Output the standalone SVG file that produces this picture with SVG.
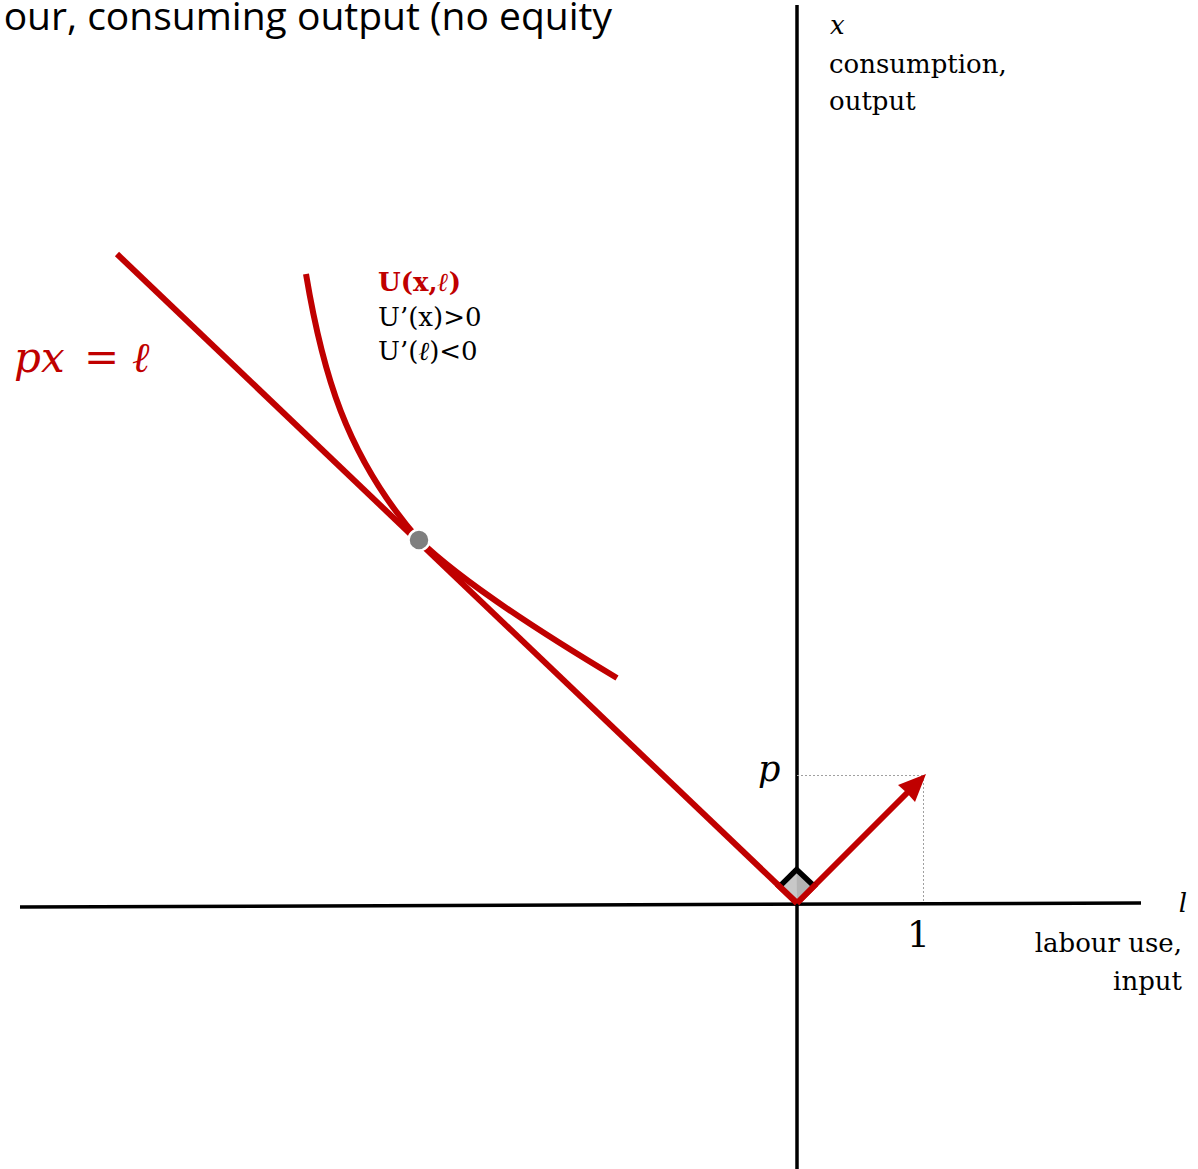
<svg xmlns="http://www.w3.org/2000/svg" width="1198" height="1169" viewBox="0 0 1198 1169">
<style>
.axis{stroke:#000;stroke-width:3.5;fill:none}
.red{stroke:#c00000;stroke-width:6;fill:none;stroke-linecap:butt}
.guide{stroke:#a0a0a0;stroke-width:1;stroke-dasharray:2,2;fill:none}
.serif{font-family:"DejaVu Serif","Liberation Serif",serif;font-size:26px;fill:#000}
.it{font-style:italic}
.title{font-family:"Open Sans","Noto Sans",sans-serif;font-size:39px;fill:#000}
</style>
<rect width="1198" height="1169" fill="#fff"/>
<g id="title"><text class="title" x="612" y="30" text-anchor="end">our, consuming output (no equity</text></g>
<g id="connectors">
<line class="axis" x1="797" y1="5" x2="797" y2="1169"/>
<line class="axis" x1="20" y1="907" x2="1141" y2="903"/>
<line class="guide" x1="797" y1="775.5" x2="923" y2="775.5"/>
<line class="guide" x1="923.5" y1="775" x2="923.5" y2="903"/>
<line class="red" x1="117" y1="254" x2="797" y2="903"/>
<path class="red" d="M306,274 C322,370 345,455 419,540 C460,580 540,632 617,678"/>
<line class="red" x1="797" y1="903" x2="909" y2="791"/>
<polygon points="926,774 915,802 907,793 898,785" fill="#c00000"/>
</g>
<g id="right-angle">
<polygon points="797,903 779.6,886.4 796.6,869.5 814,886" fill="#c8c8c8"/>
<polygon points="797,903 796.6,869.5 814,886" fill="#b4b4b4"/>
<polyline points="779.6,886.4 796.6,869.5 814,886" fill="none" stroke="#000" stroke-width="5.5"/>
<line class="red" x1="797" y1="903" x2="777" y2="884"/>
<line class="red" x1="797" y1="903" x2="816" y2="884"/>
</g>
<g id="tangent-point"><circle cx="419" cy="540" r="10.5" fill="#7f7f7f" stroke="#fff" stroke-width="2.5"/></g>
<g id="y-axis-label">
<text class="serif it" x="830" y="34">x</text>
<text class="serif" x="829" y="73">consumption,</text>
<text class="serif" x="829" y="110">output</text>
</g>
<g id="x-axis-label">
<text class="serif it" x="1187" y="912" text-anchor="end">l</text>
<text class="serif" x="1182" y="952" text-anchor="end">labour use,</text>
<text class="serif" x="1182" y="990" text-anchor="end">input</text>
</g>
<g id="utility-label">
<text class="serif" x="378" y="291" font-weight="bold" style="fill:#c00000">U(x,<tspan class="it">ℓ</tspan>)</text>
<text class="serif" x="378" y="326">U’(x)&gt;0</text>
<text class="serif" x="378" y="360">U’(<tspan class="it">ℓ</tspan>)&lt;0</text>
</g>
<g id="budget-label"><text y="372" font-family="DejaVu Serif,Liberation Serif,serif" font-style="italic" font-size="42" fill="#c00000"><tspan x="14">px</tspan><tspan x="84" font-style="normal">=</tspan><tspan x="132">ℓ</tspan></text></g>
<g id="p-label"><text class="serif it" x="758" y="781" style="font-size:35px">p</text></g>
<g id="one-label"><text class="serif" x="907" y="947" style="font-size:36px">1</text></g>
</svg>
